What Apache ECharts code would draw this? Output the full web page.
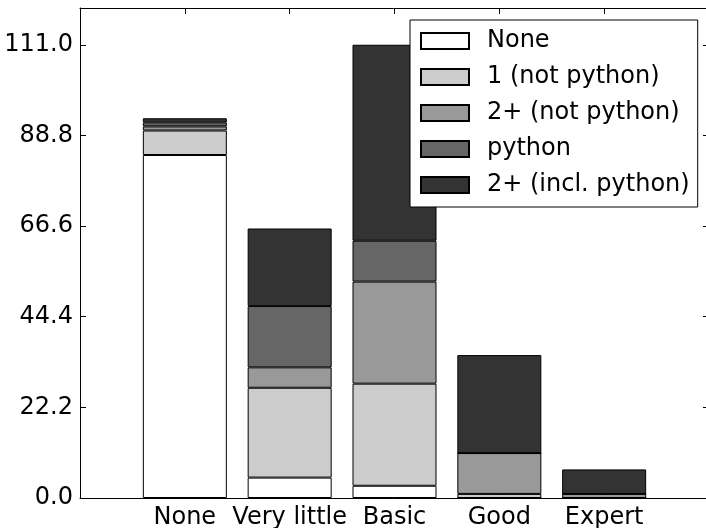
<!DOCTYPE html>
<html>
<head>
<meta charset="utf-8">
<script src="https://cdn.jsdelivr.net/npm/echarts@6/dist/echarts.min.js"></script>
<style>html,body{margin:0;padding:0;background:#fff}#c{width:706px;height:528px}</style>
</head>
<body>
<div id="c"></div>
<script>
var categories = ['None', 'Very little', 'Basic', 'Good', 'Expert'];
var seriesNames = ['None', '1 (not python)', '2+ (not python)', 'python', '2+ (incl. python)'];
var noneVals = [84, 5, 3, 0, 0];
var oneNotPython = [6, 22, 25, 1, 0];
var twoNotPython = [1, 5, 25, 10, 1];
var pythonVals = [1, 15, 10, 0, 0];
var twoInclPython = [1, 19, 48, 24, 6];
var yTicks = [0, 22.2, 44.4, 66.6, 88.8, 111.0];
var colors = ['#ffffff', '#cccccc', '#999999', '#666666', '#333333'];

var allVals = [noneVals, oneNotPython, twoNotPython, pythonVals, twoInclPython];
var FONT = 'DejaVu Sans';
// padded category list: empty slot at each end so the bars sit one slot in from the frame
var axisCats = [''].concat(categories).concat(['']);

function yFmt(v) {
  for (var i = 0; i < yTicks.length; i++) {
    if (Math.abs(v - yTicks[i]) < 1e-6) return yTicks[i].toFixed(1);
  }
  return '';
}

var series = allVals.map(function (arr, k) {
  return {
    name: seriesNames[k],
    type: 'bar',
    stack: 'total',
    barWidth: 84,
    itemStyle: { color: colors[k], borderColor: '#000', borderWidth: 1 },
    data: ['-'].concat(arr).concat(['-'])
  };
});

var chart = echarts.init(document.getElementById('c'), null, { renderer: 'canvas' });
chart.setOption({
  animation: false,
  backgroundColor: '#ffffff',
  textStyle: { fontFamily: FONT },
  grid: { left: 80, top: 8, width: 629, bottom: 30, containLabel: false, outerBoundsMode: 'none' },
  legend: {
    orient: 'vertical',
    left: 410,
    top: 20,
    padding: [9, 8, 10, 10],
    itemWidth: 48,
    itemHeight: 16,
    itemGap: 12,
    icon: 'rect',
    backgroundColor: '#ffffff',
    borderColor: '#000000',
    borderWidth: 1,
    borderRadius: 0,
    data: seriesNames,
    textStyle: { fontFamily: FONT, fontSize: 24, lineHeight: 24, color: '#000', padding: [0, 0, 0, 13] }
  },
  xAxis: [{
    type: 'category', data: axisCats, boundaryGap: false, position: 'bottom',
    splitLine: { show: false },
    axisLine: { show: true, lineStyle: { color: '#000', width: 1 } },
    axisTick: { show: true, inside: true, length: 6, interval: 0, lineStyle: { color: '#000' } },
    axisLabel: { interval: 0, fontFamily: FONT, fontSize: 24, color: '#000', margin: 8 }
  }, {
    type: 'category', data: axisCats, boundaryGap: false, position: 'top',
    splitLine: { show: false },
    axisLine: { show: true, onZero: false, lineStyle: { color: '#000', width: 1 } },
    axisTick: { show: true, inside: true, length: 6, interval: 0, lineStyle: { color: '#000' } },
    axisLabel: { show: false }
  }],
  yAxis: [{
    type: 'value', min: 0, max: 120, interval: 22.2, position: 'left',
    splitLine: { show: false },
    axisLine: { show: true, lineStyle: { color: '#000', width: 1 } },
    axisTick: { show: true, inside: true, length: 6, lineStyle: { color: '#000' } },
    axisLabel: { formatter: yFmt, fontFamily: FONT, fontSize: 24, color: '#000', margin: 7, showMaxLabel: false }
  }, {
    type: 'value', min: 0, max: 120, interval: 22.2, position: 'right',
    splitLine: { show: false },
    axisLine: { show: true, onZero: false, lineStyle: { color: '#000', width: 1 } },
    axisTick: { show: true, inside: true, length: 6, lineStyle: { color: '#000' } },
    axisLabel: { show: false }
  }],
  series: series
});
</script>
</body>
</html>
